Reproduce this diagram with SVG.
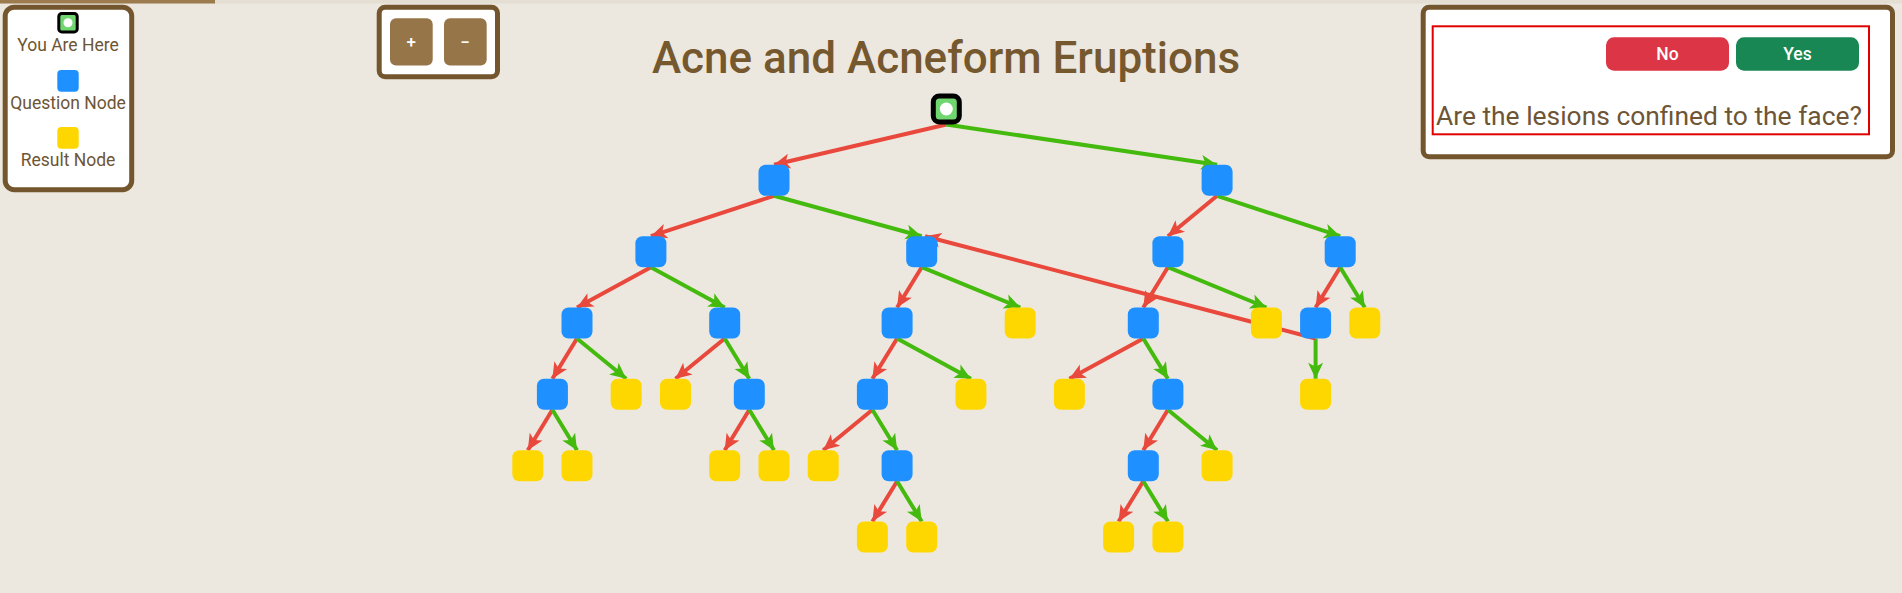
<svg xmlns="http://www.w3.org/2000/svg" width="1902" height="593" viewBox="0 0 1902 593">
<style>
.q{fill:#1e90ff}
.r{fill:#ffd700}
.er{fill:none;stroke:#e9483c;stroke-width:4;marker-end:url(#ar)}
.eg{fill:none;stroke:#45ba0e;stroke-width:4;marker-end:url(#ag)}
.panel{fill:#fff;stroke:#74562e;stroke-width:5}
.lt{font-family:Roboto,"Liberation Sans",sans-serif;font-size:17.5px;fill:#6d5535;text-anchor:middle}
.bt{font-family:Roboto,"Liberation Sans",sans-serif;font-weight:500;fill:#fff;text-anchor:middle}
</style>
<defs>
<marker id="ar" markerUnits="userSpaceOnUse" viewBox="-17 -9 18 18" markerWidth="18" markerHeight="18" refX="0" refY="0" orient="auto"><path d="M0,0 L-16,-7.5 L-12,0 L-16,7.5 Z" fill="#e9483c"/></marker>
<marker id="ag" markerUnits="userSpaceOnUse" viewBox="-17 -9 18 18" markerWidth="18" markerHeight="18" refX="0" refY="0" orient="auto"><path d="M0,0 L-16,-7.5 L-12,0 L-16,7.5 Z" fill="#45ba0e"/></marker>
</defs>
<rect width="1902" height="593" fill="#ede8df"/>
<rect x="0" y="0" width="1902" height="3.5" fill="#e4ded3"/>
<rect x="0" y="0" width="215" height="3.5" fill="#9c7b4e"/>

<g id="legend">
<rect class="panel" x="5.2" y="7.2" width="126.5" height="182.5" rx="9"/>
<rect x="58.8" y="13.5" width="18.4" height="18.4" rx="3" fill="#70d670" stroke="#000" stroke-width="3"/>
<circle cx="68" cy="22.7" r="4.5" fill="#fff"/>
<text class="lt" x="68" y="50.7">You Are Here</text>
<rect class="q" x="57.3" y="70" width="21.4" height="21.7" rx="4"/>
<text class="lt" x="68" y="109">Question Node</text>
<rect class="r" x="57.3" y="127" width="21.4" height="21.7" rx="4"/>
<text class="lt" x="68" y="165.7">Result Node</text>
</g>

<g id="zoom-controls">
<rect class="panel" x="379.2" y="7.2" width="118.3" height="69.6" rx="6"/>
<rect x="390" y="18.3" width="42.7" height="47.3" rx="6" fill="#967548"/>
<rect x="444" y="18.3" width="42.7" height="47.3" rx="6" fill="#967548"/>
<text class="bt" x="411.3" y="48" font-size="17">+</text>
<text class="bt" x="465.3" y="48" font-size="17">−</text>
</g>

<text x="946" y="73.3" font-family="Roboto,'Liberation Sans',sans-serif" font-weight="500" font-size="44" fill="#76582f" text-anchor="middle">Acne and Acneform Eruptions</text>

<g id="question-panel">
<rect class="panel" x="1423.2" y="7.2" width="469.3" height="149.6" rx="6"/>
<rect x="1432.7" y="26.3" width="436.3" height="108" fill="none" stroke="#e00000" stroke-width="2"/>
<rect x="1606" y="37.3" width="123" height="33.4" rx="8" fill="#dc3545"/>
<text class="bt" x="1667.5" y="60" font-size="17.5">No</text>
<rect x="1736" y="37.3" width="123" height="33.4" rx="8" fill="#198754"/>
<text class="bt" x="1797.5" y="60" font-size="17.5">Yes</text>
<text x="1436" y="125" font-family="Roboto,'Liberation Sans',sans-serif" font-size="26.4" fill="#6d5535">Are the lesions confined to the face?</text>
</g>

<g id="connectors">
<path class="er" d="M946.3,124.5 L774,164.8"/>
<path class="eg" d="M946.3,124.5 L1217.1,164.8"/>
<path class="er" d="M774,195.8 L650.9,236.2"/>
<path class="eg" d="M774,195.8 L921.7,236.2"/>
<path class="er" d="M1217.1,195.8 L1167.9,236.2"/>
<path class="eg" d="M1217.1,195.8 L1340.2,236.2"/>
<path class="er" d="M650.9,267.2 L577,307.5"/>
<path class="eg" d="M650.9,267.2 L724.7,307.5"/>
<path class="er" d="M921.7,267.2 L897.1,307.5"/>
<path class="eg" d="M921.7,267.2 L1020.2,307.5"/>
<path class="er" d="M1167.9,267.2 L1143.3,307.5"/>
<path class="eg" d="M1167.9,267.2 L1266.4,307.5"/>
<path class="er" d="M1340.2,267.2 L1315.6,307.5"/>
<path class="eg" d="M1340.2,267.2 L1364.8,307.5"/>
<path class="er" d="M577,338.5 L552.4,378.8"/>
<path class="eg" d="M577,338.5 L626.2,378.8"/>
<path class="er" d="M724.7,338.5 L675.5,378.8"/>
<path class="eg" d="M724.7,338.5 L749.3,378.8"/>
<path class="er" d="M897.1,338.5 L872.4,378.8"/>
<path class="eg" d="M897.1,338.5 L970.9,378.8"/>
<path class="er" d="M1143.3,338.5 L1069.4,378.8"/>
<path class="eg" d="M1143.3,338.5 L1167.9,378.8"/>
<path class="eg" d="M1315.6,338.5 L1315.6,378.8"/>
<path class="er" d="M1315.6,338.5 L925,236.2"/>
<path class="er" d="M552.4,409.8 L527.8,450.2"/>
<path class="eg" d="M552.4,409.8 L577,450.2"/>
<path class="er" d="M749.3,409.8 L724.7,450.2"/>
<path class="eg" d="M749.3,409.8 L774,450.2"/>
<path class="er" d="M872.4,409.8 L823.2,450.2"/>
<path class="eg" d="M872.4,409.8 L897.1,450.2"/>
<path class="er" d="M1167.9,409.8 L1143.3,450.2"/>
<path class="eg" d="M1167.9,409.8 L1217.1,450.2"/>
<path class="er" d="M897.1,481.2 L872.4,521.5"/>
<path class="eg" d="M897.1,481.2 L921.7,521.5"/>
<path class="er" d="M1143.3,481.2 L1118.6,521.5"/>
<path class="eg" d="M1143.3,481.2 L1167.9,521.5"/>
</g>

<g id="n-root"><rect x="933.3" y="96" width="26" height="26" rx="6" fill="#70d670" stroke="#000" stroke-width="5"/><circle cx="946.3" cy="109" r="6.5" fill="#fff"/></g>
<g id="n-a"><rect class="q" x="758.5" y="164.8" width="31" height="31" rx="7"/></g>
<g id="n-b"><rect class="q" x="1201.6" y="164.8" width="31" height="31" rx="7"/></g>
<g id="n-c"><rect class="q" x="635.4" y="236.2" width="31" height="31" rx="7"/></g>
<g id="n-d"><rect class="q" x="906.2" y="236.2" width="31" height="31" rx="7"/></g>
<g id="n-e"><rect class="q" x="1152.4" y="236.2" width="31" height="31" rx="7"/></g>
<g id="n-f"><rect class="q" x="1324.7" y="236.2" width="31" height="31" rx="7"/></g>
<g id="n-g"><rect class="q" x="561.5" y="307.5" width="31" height="31" rx="7"/></g>
<g id="n-h"><rect class="q" x="709.2" y="307.5" width="31" height="31" rx="7"/></g>
<g id="n-i"><rect class="q" x="881.6" y="307.5" width="31" height="31" rx="7"/></g>
<g id="n-j"><rect class="r" x="1004.7" y="307.5" width="31" height="31" rx="7"/></g>
<g id="n-k"><rect class="q" x="1127.8" y="307.5" width="31" height="31" rx="7"/></g>
<g id="n-l"><rect class="r" x="1250.9" y="307.5" width="31" height="31" rx="7"/></g>
<g id="n-m"><rect class="q" x="1300.1" y="307.5" width="31" height="31" rx="7"/></g>
<g id="n-n"><rect class="r" x="1349.3" y="307.5" width="31" height="31" rx="7"/></g>
<g id="n-o"><rect class="q" x="536.9" y="378.8" width="31" height="31" rx="7"/></g>
<g id="n-p"><rect class="r" x="610.7" y="378.8" width="31" height="31" rx="7"/></g>
<g id="n-q"><rect class="r" x="660" y="378.8" width="31" height="31" rx="7"/></g>
<g id="n-r"><rect class="q" x="733.8" y="378.8" width="31" height="31" rx="7"/></g>
<g id="n-s"><rect class="q" x="856.9" y="378.8" width="31" height="31" rx="7"/></g>
<g id="n-t"><rect class="r" x="955.4" y="378.8" width="31" height="31" rx="7"/></g>
<g id="n-u"><rect class="r" x="1053.9" y="378.8" width="31" height="31" rx="7"/></g>
<g id="n-v"><rect class="q" x="1152.4" y="378.8" width="31" height="31" rx="7"/></g>
<g id="n-w"><rect class="r" x="1300.1" y="378.8" width="31" height="31" rx="7"/></g>
<g id="n-o1"><rect class="r" x="512.3" y="450.2" width="31" height="31" rx="7"/></g>
<g id="n-o2"><rect class="r" x="561.5" y="450.2" width="31" height="31" rx="7"/></g>
<g id="n-r1"><rect class="r" x="709.2" y="450.2" width="31" height="31" rx="7"/></g>
<g id="n-r2"><rect class="r" x="758.5" y="450.2" width="31" height="31" rx="7"/></g>
<g id="n-s1"><rect class="r" x="807.7" y="450.2" width="31" height="31" rx="7"/></g>
<g id="n-s2"><rect class="q" x="881.6" y="450.2" width="31" height="31" rx="7"/></g>
<g id="n-v1"><rect class="q" x="1127.8" y="450.2" width="31" height="31" rx="7"/></g>
<g id="n-v2"><rect class="r" x="1201.6" y="450.2" width="31" height="31" rx="7"/></g>
<g id="n-s2a"><rect class="r" x="856.9" y="521.5" width="31" height="31" rx="7"/></g>
<g id="n-s2b"><rect class="r" x="906.2" y="521.5" width="31" height="31" rx="7"/></g>
<g id="n-v1a"><rect class="r" x="1103.1" y="521.5" width="31" height="31" rx="7"/></g>
<g id="n-v1b"><rect class="r" x="1152.4" y="521.5" width="31" height="31" rx="7"/></g>
</svg>
